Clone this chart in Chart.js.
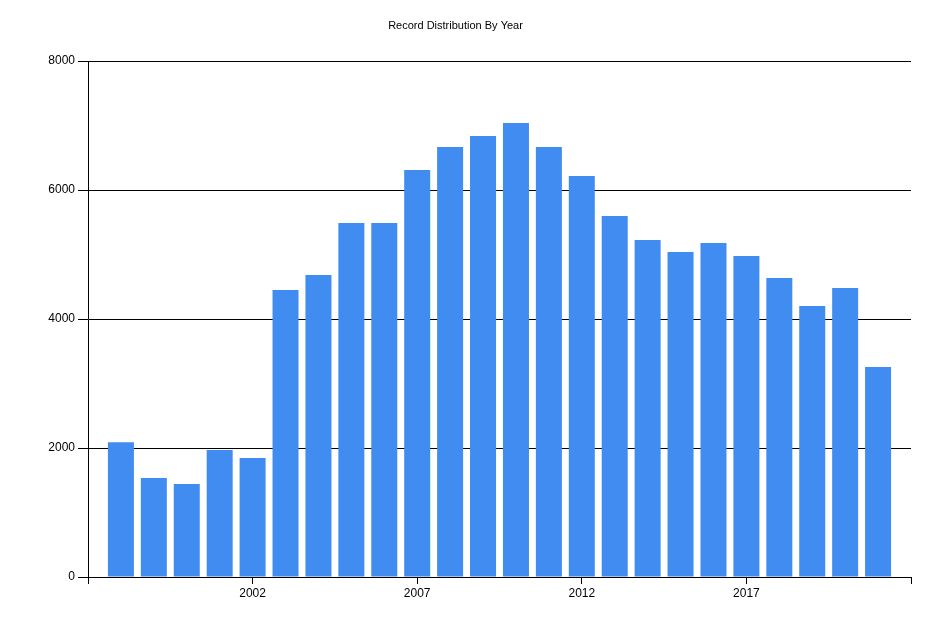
<!DOCTYPE html>
<html>
<head>
<meta charset="utf-8">
<script src="https://cdn.jsdelivr.net/npm/chart.js@4"></script>
<style>
  html, body { margin: 0; padding: 0; background: #fff; }
  canvas { display: block; }
</style>
</head>
<body>
<canvas id="yearChart" width="945" height="630"></canvas>
<script>
const YEARS = [1998, 1999, 2000, 2001, 2002, 2003, 2004, 2005, 2006, 2007, 2008, 2009,
               2010, 2011, 2012, 2013, 2014, 2015, 2016, 2017, 2018, 2019, 2020, 2021];
const RECORDS = [2090, 1535, 1442, 1969, 1845, 4450, 4682, 5488, 5488, 6310, 6667, 6837,
                 7039, 6667, 6217, 5597, 5225, 5039, 5178, 4977, 4636, 4202, 4481, 3256];
const X_MIN = 1997, X_MAX = 2022;
const Y_TICKS = [0, 2000, 4000, 6000, 8000];

const FONT = { family: 'Liberation Sans, Arial, sans-serif', size: 12 };

new Chart(document.getElementById('yearChart'), {
    type: 'bar',
    data: {
        datasets: [{
            label: 'Records',
            data: YEARS.map((y, i) => ({ x: y, y: RECORDS[i] })),
            backgroundColor: '#418CF0',
            borderWidth: 0,
            categoryPercentage: 1,
            barPercentage: 0.79,
        }]
    },
    options: {
        responsive: false,
        animation: false,
        devicePixelRatio: 1,
        layout: { padding: { left: 0, right: 34, top: 0, bottom: 0 } },
        plugins: {
            legend: { display: false },
            tooltip: { enabled: false },
            title: {
                display: true,
                text: 'Record Distribution By Year',
                color: '#000',
                font: { family: FONT.family, size: 11, weight: 'normal' },
                padding: { top: 19, bottom: 28.8 }
            }
        },
        scales: {
            x: {
                type: 'linear',
                min: X_MIN,
                max: X_MAX,
                offset: false,
                grid: { offset: false, drawOnChartArea: false, drawTicks: true, tickLength: 7, color: '#000' },
                border: { display: true, color: '#000', width: 1 },
                ticks: {
                    stepSize: 5,
                    color: '#000',
                    font: FONT,
                    padding: 2,
                    maxRotation: 0,
                    autoSkip: false,
                    callback: v => (v === X_MIN || v === X_MAX) ? '' : String(v)
                },
                afterFit: s => { s.height = 53; }
            },
            y: {
                min: 0,
                max: 8000,
                afterBuildTicks: s => { s.ticks = Y_TICKS.map(v => ({ value: v })); },
                grid: { color: '#000', tickLength: 10, lineWidth: 1 },
                border: { display: true, color: '#000', width: 1 },
                ticks: { color: '#000', font: FONT, padding: 3, callback: v => String(v) },
                afterFit: s => { s.width = 88; }
            }
        }
    }
});
</script>
</body>
</html>
